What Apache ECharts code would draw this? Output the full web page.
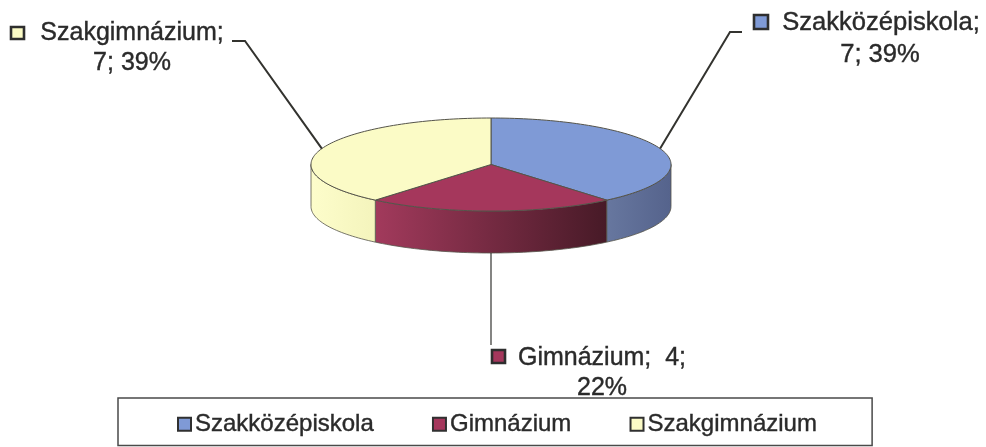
<!DOCTYPE html>
<html><head><meta charset="utf-8">
<style>html,body{margin:0;padding:0;background:#fff}#c{width:986px;height:447px}</style>
<script src="https://cdn.jsdelivr.net/npm/echarts@6/dist/echarts.min.js"></script>
</head><body><div id="c"></div>
<script>
const categories = ['Szakközépiskola', 'Gimnázium', 'Szakgimnázium'];
const values = [7, 4, 7];
const topColors = ['#7f9ad6', '#a5375c', '#fbfbc6'];
const sideStart = ['#67779f', '#a23a5c', '#fdfdcb'];
const sideEnd = ['#55638c', '#471a27', '#f4f4bc'];
const labelLines = [['Szakközépiskola;', '7; 39%'], ['Gimnázium;  4;', '22%'], ['Szakgimnázium;', '7; 39%']];

// layout only
const CX = 491, CY = 164.5, RX = 180, RY = 46.5, DEPTH = 42, FONT = 'Liberation Sans, Arial, sans-serif';
const labelLayout = [
  {icon: [753, 14, 16, 16], size: 25.6, lines: [[881, 23], [880, 55]], leader: [[742, 32], [730, 32]], anchor: 'mid'},
  {icon: [491, 349, 15, 15], size: 25, lines: [[602, 358], [602, 388]], leader: [[491, 345]], anchor: 'bottom'},
  {icon: [10, 26, 15, 14], size: 25, lines: [[132, 33], [132, 63]], leader: [[232, 41], [245, 41]], anchor: 'mid'}
];
const total = values.reduce((a, b) => a + b, 0);
const pt = (deg, dy) => {
  const r = deg * Math.PI / 180;
  return [CX + RX * Math.sin(r), CY - RY * Math.cos(r) + (dy || 0)];
};
const arc = (a, b, dy) => {
  const out = [];
  const n = Math.max(2, Math.ceil(Math.abs(b - a) / 1.5));
  for (let i = 0; i <= n; i++) out.push(pt(a + (b - a) * i / n, dy));
  return out;
};
function sliceRange(i) {
  const before = values.slice(0, i).reduce((a, b) => a + b, 0);
  return [before / total * 360, (before + values[i]) / total * 360];
}
function renderSlice(i) {
  return function (params, api) {
    const [a0, a1] = sliceRange(i);
    const kids = [];
    const edge = '#55544a';
    // visible outer wall: the part of the slice on the lower half of the ellipse
    const s0 = Math.max(a0, 90), s1 = Math.min(a1, 270);
    if (s1 > s0) {
      const top = arc(s0, s1, 0), bot = arc(s1, s0, DEPTH);
      const xs = top.map(p => p[0]);
      const x0 = Math.min(...xs), x1 = Math.max(...xs);
      kids.push({
        type: 'polygon', shape: {points: top.concat(bot)},
        style: {
          fill: new echarts.graphic.LinearGradient(x0, 0, x1, 0, [
            {offset: 0, color: sideStart[i]}, {offset: 1, color: sideEnd[i]}
          ], true),
          stroke: edge, lineWidth: 0.8
        }
      });
    }
    // top face
    kids.push({
      type: 'polygon', shape: {points: [[CX, CY]].concat(arc(a0, a1, 0))},
      style: {fill: topColors[i], stroke: edge, lineWidth: 1}
    });
    // leader line
    const mid = (a0 + a1) / 2;
    const lay = labelLayout[i];
    const start = lay.anchor === 'bottom' ? pt(mid, DEPTH) : pt(mid, 0);
    const pts = i === 2 ? lay.leader.concat([start]) : [start].concat(lay.leader.slice().reverse());
    kids.push({
      type: 'polyline', shape: {points: pts},
      style: {fill: 'none', stroke: '#33332f', lineWidth: i === 1 ? 1.2 : 2}
    });
    // label marker
    const b = lay.icon;
    kids.push({
      type: 'rect', shape: {x: b[0] + 1, y: b[1] + 1, width: b[2] - 2, height: b[3] - 2},
      style: {fill: topColors[i], stroke: '#2e2e2e', lineWidth: 2.6}
    });
    // label text
    labelLines[i].forEach((t, k) => {
      kids.push({
        type: 'text', x: lay.lines[k][0], y: lay.lines[k][1],
        style: {text: t, fill: '#2a2a2a', stroke: '#2a2a2a', lineWidth: 0.4,
          font: lay.size + 'px ' + FONT, align: 'center', verticalAlign: 'middle'}
      });
    });
    return {type: 'group', children: kids};
  };
}
const series = categories.map((name, i) => ({
  type: 'custom', name, coordinateSystem: 'none', silent: true,
  data: [{name, value: values[i]}],
  itemStyle: {color: topColors[i]},
  renderItem: renderSlice(i)
}));
const chart = echarts.init(document.getElementById('c'), null, {renderer: 'canvas'});
chart.setOption({
  animation: false,
  backgroundColor: '#fff',
  legend: {
    data: categories.map(name => ({name, icon: 'rect'})),
    left: 118, top: 398, orient: 'horizontal',
    padding: [14, 55, 9, 59],
    itemWidth: 13, itemHeight: 13, itemGap: 58,
    backgroundColor: '#fff', borderColor: '#4a4a4a', borderWidth: 1.5,
    itemStyle: {borderColor: '#303030', borderWidth: 2},
    textStyle: {fontFamily: FONT, fontSize: 24, color: '#2a2a2a', textBorderColor: '#2a2a2a', textBorderWidth: 0.4, padding: [0, 0, 0, -1]},
    selectedMode: false
  },
  series
});
</script></body></html>
